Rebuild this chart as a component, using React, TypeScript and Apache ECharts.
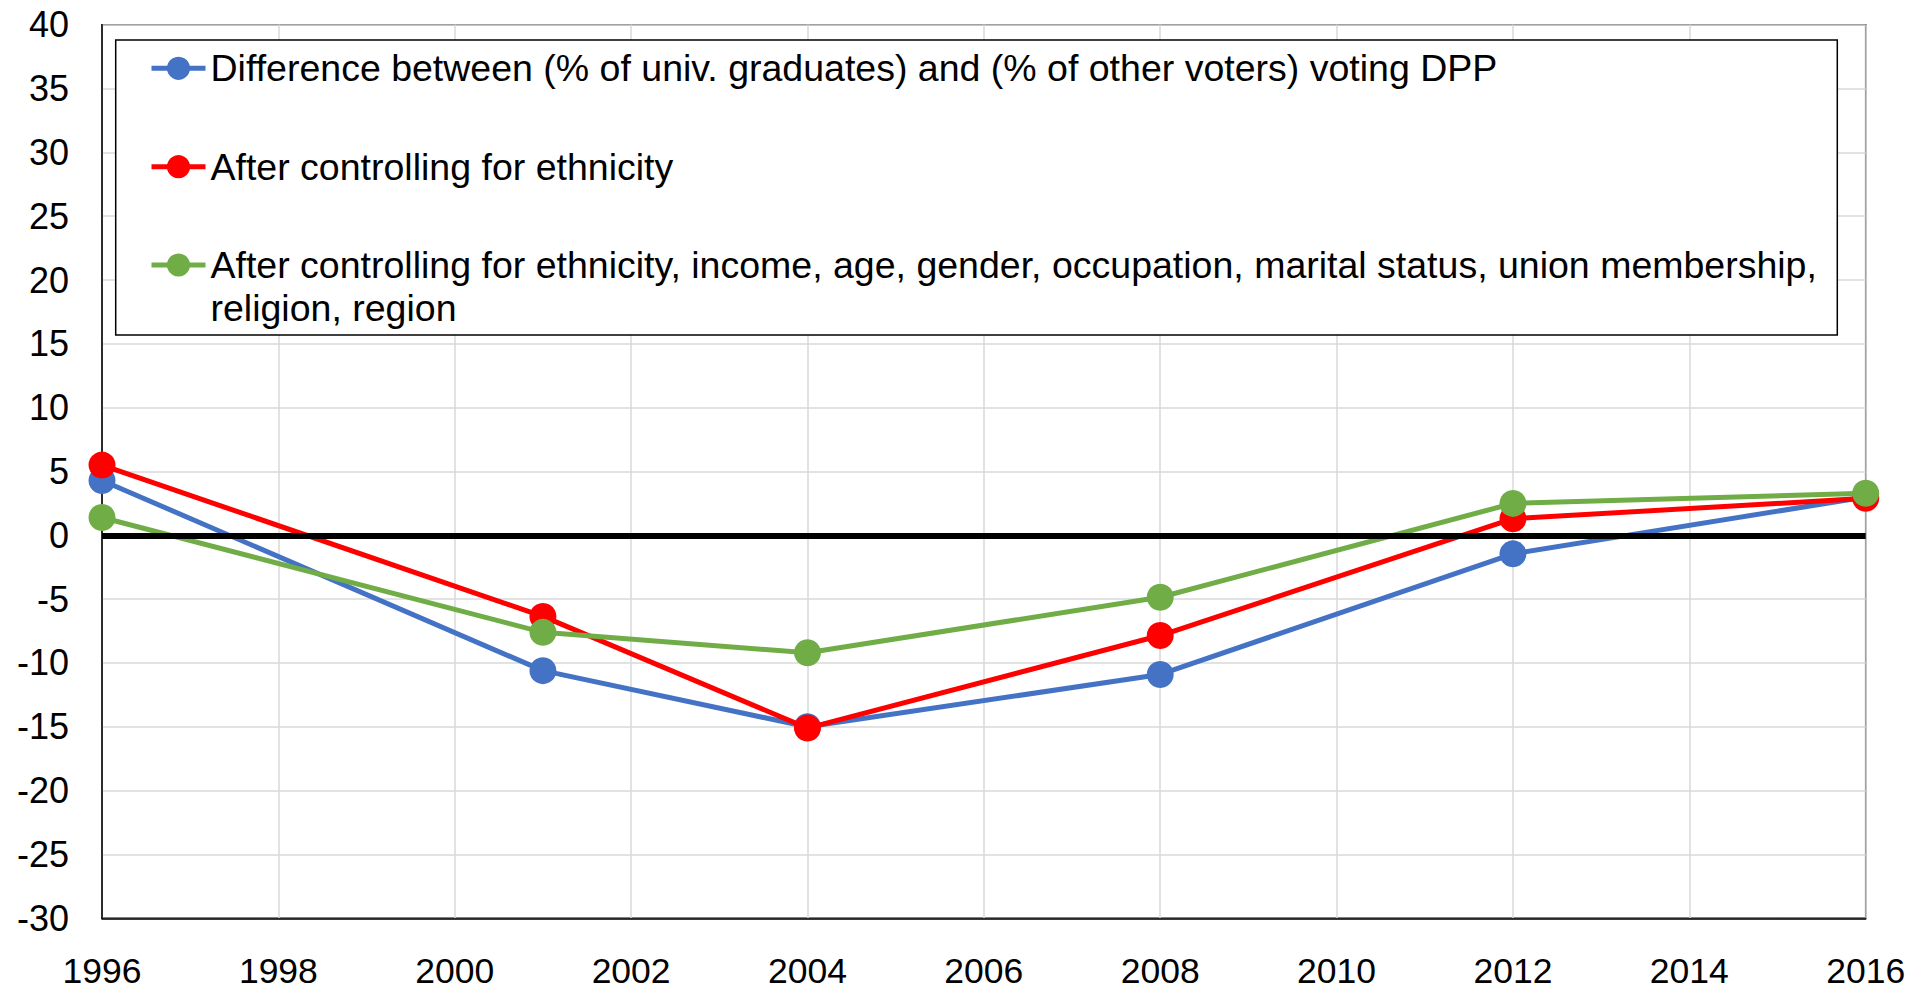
import React, { useEffect, useRef } from "react";
import * as echarts from "echarts";

const years = [1996, 2001, 2004, 2008, 2012, 2016];
const seriesNames = [
  "Difference between (% of univ. graduates) and (% of other voters) voting DPP",
  "After controlling for ethnicity",
  "After controlling for ethnicity, income, age, gender, occupation, marital status, union membership,\nreligion, region",
];
const diffValues = [4.3, -10.6, -15.0, -10.9, -1.45, 3.0];
const ethnicityValues = [5.5, -6.35, -15.1, -7.85, 1.3, 2.9];
const fullControlValues = [1.4, -7.6, -9.2, -4.85, 2.5, 3.3];
const colors = ["#4472C4", "#FF0000", "#70AD47"];
const xTicks = { min: 1996, max: 2016, interval: 2 };
const yTicks = { min: -30, max: 40, interval: 5 };

const FONT = "'Liberation Sans', Arial, sans-serif";

export default function App() {
  const ref = useRef<HTMLDivElement>(null);
  useEffect(() => {
    if (!ref.current) return;
    const chart = echarts.init(ref.current, undefined, { renderer: "svg" });
    const allValues = [diffValues, ethnicityValues, fullControlValues];
    const legendTops = [46.8, 145.2, 200.5];
    const legendCommon = {
      orient: "vertical",
      left: 149,
      padding: 0,
      itemWidth: 54,
      itemHeight: 29,
      itemGap: 0,
      lineStyle: { width: 5 },
      textStyle: { fontFamily: FONT, fontSize: 37.5, color: "#000", lineHeight: 43 },
    };
    chart.setOption({
      animation: false,
      backgroundColor: "#fff",
      grid: {
        left: 102,
        top: 24.7,
        right: 60.3,
        bottom: 73.7,
        show: true,
        borderColor: "#000",
        borderWidth: 1.5,
        backgroundColor: "transparent",
      },
      xAxis: {
        type: "value",
        min: xTicks.min,
        max: xTicks.max,
        interval: xTicks.interval,
        axisLine: { show: true, onZero: false, lineStyle: { color: "#000", width: 1.5 } },
        axisTick: { show: false },
        axisLabel: {
          fontFamily: FONT,
          fontSize: 35.5,
          lineHeight: 30,
          color: "#000",
          margin: 38,
          formatter: (v: number) => String(v),
        },
        splitLine: { show: true, lineStyle: { color: "#d9d9d9", width: 1.5 } },
      },
      yAxis: {
        type: "value",
        min: yTicks.min,
        max: yTicks.max,
        interval: yTicks.interval,
        axisLine: { show: true, onZero: false, lineStyle: { color: "#000", width: 1.5 } },
        axisTick: { show: false },
        axisLabel: { fontFamily: FONT, fontSize: 36, color: "#000", margin: 33 },
        splitLine: { show: true, lineStyle: { color: "#d9d9d9", width: 1.5 } },
      },
      legend: seriesNames.map((name, i) => ({
        ...legendCommon,
        top: legendTops[i],
        data: [name],
        formatter: i === 2 ? (n: string) => "\n" + n : "{name}",
      })),
      graphic: [
        {
          type: "rect",
          z: 3,
          shape: { x: 115.7, y: 40, width: 1721.6, height: 295 },
          style: { fill: "#fff", stroke: "#000", lineWidth: 1.5 },
          silent: true,
        },
      ],
      series: [
        {
          type: "line",
          name: "zero",
          data: [],
          z: 1,
          silent: true,
          markLine: {
            silent: true,
            symbol: ["none", "none"],
            label: { show: false },
            lineStyle: { color: "#000", width: 6, type: "solid" },
            data: [{ yAxis: 0 }],
          },
        },
        ...seriesNames.map((name, i) => ({
          type: "line",
          name,
          z: 2 + i * 0.1,
          data: years.map((y, j) => [y, allValues[i][j]]),
          symbol: "circle",
          symbolSize: 27,
          showSymbol: true,
          itemStyle: { color: colors[i] },
          lineStyle: { color: colors[i], width: 5 },
        })),
      ],
    });
    return () => chart.dispose();
  }, []);
  return (
    <div
      ref={ref}
      style={{ position: "fixed", left: 0, top: 0, width: 1926, height: 992 }}
    />
  );
}
